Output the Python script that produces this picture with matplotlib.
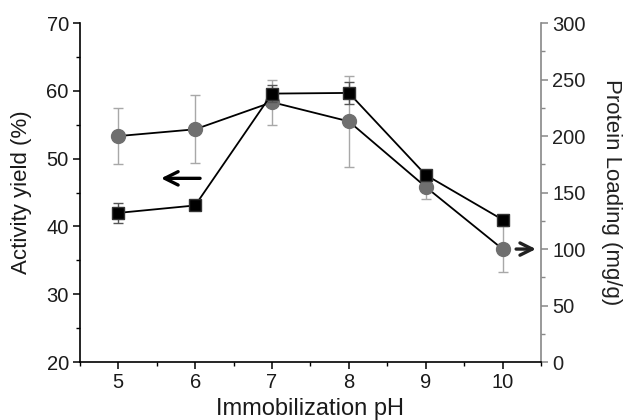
import matplotlib
matplotlib.use("Agg")
import matplotlib.pyplot as plt
from matplotlib.ticker import MultipleLocator

plt.rcParams['font.family'] = ['Liberation Sans', 'DejaVu Sans']

ph = [5, 6, 7, 8, 9, 10]
activity = [42.0, 43.1, 59.6, 59.7, 47.6, 41.0]
activity_err = [1.5, 0.6, 1.2, 1.6, 0.5, 0.0]
loading = [200, 206, 230, 213, 155, 100]
loading_err = [25, 30, 20, 40, 11, 20]

fig = plt.figure(figsize=(6.24, 4.2), dpi=100)
ax = fig.add_axes([0.128, 0.138, 0.739, 0.807])
ax2 = ax.twinx()

grey = '#6f6f6f'
errc = '#a8a8a8'

# protein loading (right axis)
ax2.errorbar(ph, loading, yerr=loading_err, color='black', lw=1.3,
             marker='o', ms=10, mfc=grey, mec=grey,
             ecolor=errc, elinewidth=1.0, capsize=3.5, capthick=1.0, zorder=2)

# activity yield (left axis)
ax.errorbar(ph, activity, yerr=activity_err, color='black', lw=1.3,
            marker='s', ms=8.5, mfc='black', mec='#333333',
            ecolor='#555555', elinewidth=1.0, capsize=3.5, capthick=1.0, zorder=3)
ax.set_zorder(ax2.get_zorder() + 1)
ax.patch.set_visible(False)

ax.set_xlim(4.5, 10.5)
ax.set_ylim(20, 70)
ax2.set_ylim(0, 300)

ax.xaxis.set_major_locator(MultipleLocator(1))
ax.xaxis.set_minor_locator(MultipleLocator(0.5))
ax.yaxis.set_major_locator(MultipleLocator(10))
ax.yaxis.set_minor_locator(MultipleLocator(5))
ax2.yaxis.set_major_locator(MultipleLocator(50))
ax2.yaxis.set_minor_locator(MultipleLocator(25))

for a in (ax, ax2):
    a.spines['top'].set_visible(False)
ax.spines['right'].set_visible(False)
ax2.spines['left'].set_visible(False)
ax2.spines['bottom'].set_visible(False)
ax2.spines['right'].set_color('#888888')
ax.spines['left'].set_linewidth(1.2)
ax.spines['bottom'].set_linewidth(1.2)
ax2.spines['right'].set_linewidth(1.2)

ax.tick_params(which='major', direction='out', length=5, width=1.1, labelsize=14.5,
               labelcolor='#1a1a1a', pad=3)
ax.tick_params(which='minor', direction='out', length=3, width=1.0)
ax2.tick_params(which='major', direction='out', length=5, width=1.1, labelsize=14.5,
                color='#888888', labelcolor='#222222', pad=3)
ax2.tick_params(which='minor', direction='out', length=3, width=1.0, color='#888888')

ax.set_xlabel('Immobilization pH', fontsize=17, color='#1a1a1a')
ax.set_ylabel('Activity yield (%)', fontsize=16, color='#1a1a1a')
ax2.set_ylabel('Protein Loading (mg/g)', fontsize=16, rotation=270, color='#222222')
ax.xaxis.set_label_coords(0.5, -0.105)
ax.yaxis.set_label_coords(-0.126, 0.5)
ax2.yaxis.set_label_coords(1.152, 0.5)
ax.yaxis.label.set_va('center')
ax2.yaxis.label.set_va('center')

# arrows pointing to the matching axis
ax.annotate('', xy=(5.52, 47.1), xytext=(6.1, 47.1),
            arrowprops=dict(arrowstyle='->', lw=2.4, color='black', mutation_scale=24))
ax2.annotate('', xy=(10.47, 100), xytext=(10.14, 100),
             arrowprops=dict(arrowstyle='->', lw=2.4, color='#222222', mutation_scale=22))

fig.savefig('out.png', dpi=100)
